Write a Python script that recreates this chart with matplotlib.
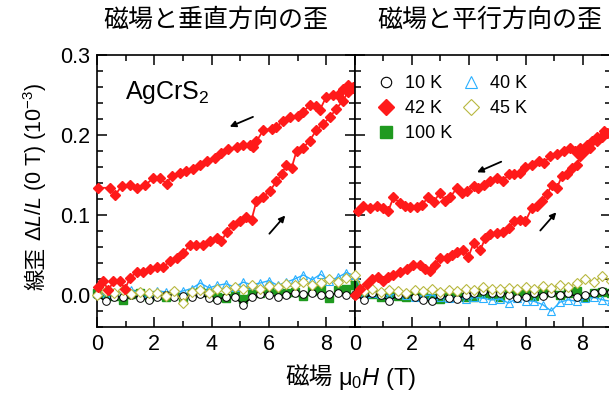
import numpy as np
import matplotlib
matplotlib.use("Agg")
import matplotlib.pyplot as plt
from matplotlib.lines import Line2D
from matplotlib.ticker import MultipleLocator, FormatStrFormatter

plt.rcParams['font.family'] = ['Liberation Sans', 'Noto Sans CJK JP', 'DejaVu Sans']
plt.rcParams['mathtext.fontset'] = 'custom'
plt.rcParams['mathtext.rm'] = 'Liberation Sans'
plt.rcParams['mathtext.it'] = 'Liberation Sans:italic'

# --- data (strain in units of 1e-3, field in T) ---

# grid for the small-signal temperatures
field = [0.0, 0.3, 0.6, 0.9, 1.2, 1.5, 1.8, 2.1, 2.4, 2.7, 3.0, 3.3, 3.6, 3.9, 4.2, 4.5,
         4.8, 5.1, 5.4, 5.7, 6.0, 6.3, 6.6, 6.9, 7.2, 7.5, 7.8, 8.1, 8.4, 8.7, 9.0]

# perpendicular (left)
perp_10K = [0.0, -0.008, -0.002, -0.003, 0.0, -0.004, -0.006, -0.002, 0.0, -0.003, -0.001,
            -0.002, 0.001, -0.004, -0.006, -0.002, -0.003, -0.012, -0.003, 0.001, 0.0,
            -0.002, 0.0, 0.003, 0.001, 0.002, 0.0, 0.001, 0.002, 0.0, 0.001]
perp_40K = [0.003, 0.0, 0.004, 0.002, 0.006, 0.003, 0.002, 0.005, 0.004, 0.003, 0.005,
            0.008, 0.015, 0.009, 0.012, 0.014, 0.010, 0.016, 0.013, 0.015, 0.018, 0.012,
            0.016, 0.020, 0.025, 0.019, 0.026, 0.018, 0.022, 0.028, 0.024]
perp_45K = [0.0, 0.005, 0.002, 0.006, 0.001, 0.004, 0.003, 0.002, -0.001, 0.005, -0.010,
            0.004, 0.006, 0.003, 0.008, 0.006, 0.010, 0.007, 0.012, 0.008, 0.011, 0.010,
            0.014, 0.012, 0.016, 0.013, 0.015, 0.020, 0.016, 0.021, 0.018]
perp_100K = [0.002, 0.0, -0.001, -0.006, 0.001, 0.002, -0.002, 0.0, -0.002, 0.001, -0.003,
             0.002, 0.004, 0.003, -0.002, -0.004, 0.001, -0.005, 0.004, 0.003, 0.008, 0.005,
             0.002, 0.004, -0.001, 0.005, 0.007, -0.004, 0.006, 0.008, 0.012]

perp_42K_up_h = [0.05, 0.22, 0.40, 0.57, 0.80, 0.98, 1.15, 1.38, 1.61, 1.85, 2.08, 2.31, 2.54,
                 2.78, 3.01, 3.24, 3.47, 3.71, 3.94, 4.17, 4.34, 4.52, 4.75, 4.98, 5.21, 5.39,
                 5.56, 5.80, 6.03, 6.26, 6.44, 6.61, 6.79, 6.96, 7.19, 7.42, 7.65, 7.89, 8.12,
                 8.35, 8.58, 8.76, 8.93]
perp_42K_up = [0.010, 0.017, 0.006, 0.017, 0.017, 0.008, 0.021, 0.029, 0.029, 0.033, 0.035,
               0.035, 0.042, 0.046, 0.052, 0.063, 0.063, 0.063, 0.067, 0.071, 0.067, 0.079,
               0.088, 0.092, 0.098, 0.094, 0.117, 0.123, 0.130, 0.142, 0.151, 0.163, 0.159,
               0.180, 0.184, 0.193, 0.206, 0.214, 0.222, 0.233, 0.243, 0.254, 0.260]
perp_42K_dn_h = [8.93, 8.76, 8.58, 8.41, 8.23, 8.00, 7.77, 7.65, 7.42, 7.19, 7.02, 6.72, 6.49,
                 6.26, 6.09, 5.80, 5.56, 5.45, 5.33, 5.10, 4.87, 4.58, 4.34, 4.11, 3.82, 3.59,
                 3.36, 3.12, 2.89, 2.60, 2.43, 2.19, 1.96, 1.67, 1.38, 1.15, 0.86, 0.63, 0.45,
                 0.05]
perp_42K_dn = [0.259, 0.262, 0.258, 0.250, 0.250, 0.248, 0.231, 0.236, 0.237, 0.229, 0.224,
               0.223, 0.218, 0.210, 0.208, 0.206, 0.192, 0.185, 0.188, 0.187, 0.185, 0.182,
               0.178, 0.171, 0.168, 0.163, 0.157, 0.155, 0.153, 0.149, 0.139, 0.146, 0.146,
               0.137, 0.134, 0.137, 0.136, 0.125, 0.134, 0.134]

# parallel (right)
para_10K = [0.0, -0.006, 0.002, 0.0, -0.008, 0.0, 0.001, -0.002, -0.006, -0.008, 0.0,
            -0.004, -0.005, 0.0, 0.003, 0.005, 0.002, 0.003, 0.0, -0.004, -0.002, 0.002,
            -0.001, 0.003, 0.0, 0.002, -0.002, 0.0, 0.003, 0.005, 0.004]
para_40K = [0.025, 0.0, 0.002, 0.001, -0.001, 0.002, 0.0, -0.002, -0.001, 0.0, -0.003,
            -0.004, -0.002, -0.005, -0.003, -0.004, -0.006, -0.005, -0.010, -0.004, -0.007,
            -0.008, -0.012, -0.020, -0.009, -0.006, -0.008, -0.004, -0.003, -0.006, -0.008]
para_45K = [0.025, 0.005, 0.008, 0.004, 0.006, 0.005, 0.003, 0.006, 0.005, 0.007, 0.004,
            0.006, 0.005, 0.008, 0.006, 0.010, 0.007, 0.008, 0.009, 0.007, 0.010, 0.008,
            0.011, 0.009, 0.013, 0.010, 0.015, 0.020, 0.016, 0.024, 0.018]
para_100K = [0.012, 0.002, 0.001, -0.002, 0.003, -0.001, -0.003, 0.001, 0.0, -0.004, -0.005,
             0.0, 0.001, -0.003, -0.002, 0.003, 0.0, -0.002, 0.004, 0.001, 0.005, -0.001,
             0.002, 0.004, 0.0, 0.003, 0.005, -0.002, 0.002, 0.004, 0.003]

para_42K_up_h = [0.0, 0.18, 0.41, 0.59, 0.82, 1.00, 1.17, 1.35, 1.58, 1.82, 2.05, 2.29, 2.46,
                 2.64, 2.82, 2.99, 3.23, 3.40, 3.58, 3.81, 3.99, 4.17, 4.40, 4.58, 4.75, 4.99,
                 5.22, 5.40, 5.58, 5.81, 5.99, 6.22, 6.40, 6.57, 6.75, 6.93, 7.10, 7.28, 7.45,
                 7.63, 7.81, 7.92, 8.10, 8.27, 8.51, 8.68, 8.86]
para_42K_up = [0.000, 0.008, 0.014, 0.020, 0.023, 0.018, 0.023, 0.025, 0.029, 0.033, 0.037,
               0.037, 0.033, 0.030, 0.038, 0.046, 0.046, 0.050, 0.054, 0.056, 0.048, 0.065,
               0.056, 0.071, 0.076, 0.077, 0.079, 0.084, 0.092, 0.094, 0.092, 0.109, 0.111,
               0.117, 0.126, 0.138, 0.134, 0.149, 0.151, 0.159, 0.163, 0.174, 0.180, 0.184,
               0.193, 0.197, 0.203]
para_42K_dn_h = [8.86, 8.74, 8.51, 8.33, 8.16, 7.92, 7.75, 7.57, 7.34, 7.10, 6.87, 6.63, 6.46,
                 6.22, 5.99, 5.81, 5.58, 5.40, 5.22, 4.99, 4.75, 4.52, 4.34, 4.17, 3.93, 3.76,
                 3.58, 3.35, 3.17, 2.99, 2.76, 2.58, 2.35, 2.17, 1.94, 1.76, 1.58, 1.35, 1.17,
                 1.00, 0.76, 0.53, 0.29, 0.12]
para_42K_dn = [0.203, 0.205, 0.197, 0.193, 0.188, 0.184, 0.180, 0.184, 0.180, 0.176, 0.174,
               0.165, 0.168, 0.163, 0.160, 0.153, 0.151, 0.151, 0.143, 0.146, 0.143, 0.138,
               0.134, 0.136, 0.130, 0.128, 0.134, 0.122, 0.117, 0.128, 0.116, 0.122, 0.113,
               0.110, 0.110, 0.111, 0.115, 0.122, 0.105, 0.109, 0.111, 0.109, 0.111, 0.105]

# colours
c10 = 'black'
c40 = '#2ab0ff'
c42 = '#ff1a1a'
c45 = '#b8b840'
c100 = '#1f9a1f'

W, H = 609, 396
fig = plt.figure(figsize=(W / 100, H / 100), dpi=100)
ax1 = fig.add_axes([97 / W, 69 / H, 258 / W, 272 / H])
ax2 = fig.add_axes([355 / W, 69 / H, 256 / W, 272 / H])


def draw(ax, d10, d40, d45, d100, uh, u, dh, dn):
    kw = dict(lw=1.0, ms=5.5, clip_on=False)
    ax.plot(field, d10, color=c10, marker='o', mfc='white', mec=c10, mew=0.7, zorder=3, **kw)
    ax.plot(field, d100, color=c100, marker='s', mfc=c100, mec=c100, zorder=2, **kw)
    ax.plot(field, d40, color=c40, marker='^', mfc='none', mec=c40, mew=0.8, zorder=2, **kw)
    ax.plot(field, d45, color=c45, marker='D', mfc='white', mec=c45, mew=0.8, zorder=3, **kw)
    ax.plot(uh, u, color=c42, marker='D', mfc=c42, mec=c42, lw=1.3, ms=5.5, zorder=4, clip_on=False)
    ax.plot(dh, dn, color=c42, marker='D', mfc=c42, mec=c42, lw=1.3, ms=5.5, zorder=4, clip_on=False)

    ax.set_xlim(0, 9)
    ax.set_ylim(-0.04, 0.3)
    ax.xaxis.set_major_locator(MultipleLocator(2))
    ax.xaxis.set_minor_locator(MultipleLocator(1))
    ax.yaxis.set_major_locator(MultipleLocator(0.1))
    ax.yaxis.set_minor_locator(MultipleLocator(0.02))
    ax.yaxis.set_major_formatter(FormatStrFormatter('%.1f'))
    ax.tick_params(which='both', direction='in', top=True, right=True, labelsize=15.5, width=1.1)
    ax.tick_params(which='major', length=7, pad=5)
    ax.tick_params(which='minor', length=4)
    for s in ax.spines.values():
        s.set_linewidth(1.2)


draw(ax1, perp_10K, perp_40K, perp_45K, perp_100K,
     perp_42K_up_h, perp_42K_up, perp_42K_dn_h, perp_42K_dn)
draw(ax2, para_10K, para_40K, para_45K, para_100K,
     para_42K_up_h, para_42K_up, para_42K_dn_h, para_42K_dn)
ax2.tick_params(labelleft=False)

# arrows showing sweep direction
arr = dict(arrowstyle='-|>', color='black', lw=1.3, mutation_scale=9)
ax1.annotate('', xy=(4.54, 0.209), xytext=(5.53, 0.224), arrowprops=arr)
ax1.annotate('', xy=(6.63, 0.102), xytext=(5.95, 0.074), arrowprops=arr)
ax2.annotate('', xy=(4.2, 0.152), xytext=(5.23, 0.168), arrowprops=arr)
ax2.annotate('', xy=(7.14, 0.106), xytext=(6.45, 0.078), arrowprops=arr)

ax1.text(0.98, 0.253, 'AgCrS$_2$', fontsize=18, va='center')

# axis labels: CJK part and mathtext part drawn separately, joined on the baseline
ylab = dict(fontsize=15.5, va='baseline', rotation_mode='anchor', rotation=90)
fig.text(42 / W, 1 - 247 / H, '線歪', ha='right', **ylab)
fig.text(42 / W, 1 - 241 / H, '$\\Delta L/L$ (0 T) (10$^{-3}$)', ha='left', **ylab)
xlab = dict(fontsize=17, va='baseline')
fig.text(333 / W, 1 - 385 / H, '磁場', ha='right', **xlab)
fig.text(338 / W, 1 - 385 / H, 'μ$_0$$H$ (T)', ha='left', **xlab)

fig.text(216 / W, 1 - 20 / H, '磁場と垂直方向の歪', fontsize=18, ha='center', va='center')
fig.text(490 / W, 1 - 20 / H, '磁場と平行方向の歪', fontsize=18, ha='center', va='center')

# legend (markers only)
h = [Line2D([], [], ls='none', marker='o', mfc='white', mec=c10, ms=7.5, mew=0.8),
     Line2D([], [], ls='none', marker='D', mfc=c42, mec=c42, ms=8.5),
     Line2D([], [], ls='none', marker='s', mfc=c100, mec=c100, ms=8),
     Line2D([], [], ls='none', marker='^', mfc='none', mec=c40, ms=9, mew=0.8),
     Line2D([], [], ls='none', marker='D', mfc='white', mec=c45, ms=8, mew=0.8)]
labs = ['10 K', '42 K', '100 K', '40 K', '45 K']
ax2.legend(h, labs, ncol=2, loc='upper left', bbox_to_anchor=(22 / 256, 0.925), frameon=False,
           fontsize=13, handlelength=1.0, handletextpad=0.55, columnspacing=0.55,
           labelspacing=0.43, borderaxespad=0, borderpad=0)

fig.savefig('out.png', dpi=100)
